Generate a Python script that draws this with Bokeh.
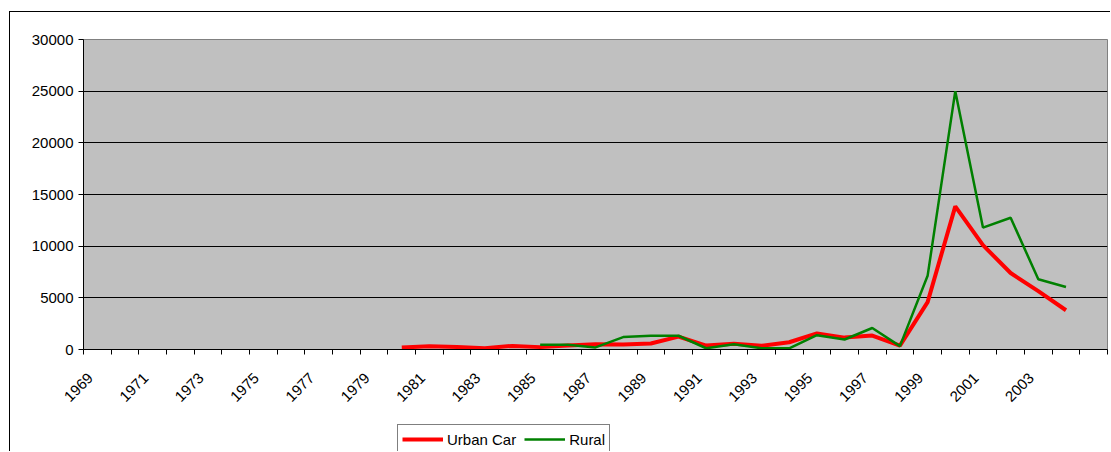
import math
from bokeh.plotting import figure
from bokeh.layouts import column
from bokeh.models import (FixedTicker, Legend, LegendItem, ColumnDataSource,
                          Range1d, BasicTickFormatter)
from bokeh.embed import file_html
from bokeh.resources import INLINE

nan = float("nan")

years = list(range(1969, 2006))
tick_years = list(range(1969, 2004, 2))
tick_labels = [str(y) for y in tick_years]
y_ticks = [0, 5000, 10000, 15000, 20000, 25000, 30000]
series_names = ["Urban Car", "Rural"]
series_colors = ["#FF0000", "#008000"]

urban_car = [nan] * 11 + [200, 320, 230, 130, 350, 230, 380, 500, 480, 580,
                          1250, 380, 560, 360, 700, 1560, 1150, 1350, 380,
                          4580, 13850, 10100, 7400, 5650, 3800] + [nan]
rural = [nan] * 16 + [450, 450, 200, 1200, 1330, 1330, 120, 500, 120, 120,
                      1380, 970, 2080, 330, 7130, 25000, 11800, 12750,
                      6800, 6050] + [nan]

src = ColumnDataSource(dict(year=years, urban=urban_car, rural=rural))

FONT = "Liberation Sans"

p = figure(width=1100, height=411, output_backend="svg", toolbar_location=None,
           x_range=Range1d(years[0] - 0.5, years[-1] + 0.5),
           y_range=Range1d(y_ticks[0], y_ticks[-1]),
           min_border_left=73, min_border_right=3, min_border_top=27,
           min_border_bottom=74)

p.background_fill_color = "#C0C0C0"
p.border_fill_color = "white"
p.outline_line_color = "#808080"
p.outline_line_width = 1

# x axis: labels a little left of the category centre, ticks at boundaries
label_pos = [y - 0.25 for y in tick_years]
xa = p.xaxis[0]
xa.ticker = FixedTicker(ticks=label_pos,
                        minor_ticks=[y - 0.5 for y in years] + [years[-1] + 0.5])
xa.major_label_overrides = {pos: s for pos, s in zip(label_pos, tick_labels)}
xa.major_tick_line_color = None
xa.minor_tick_line_color = "black"
xa.minor_tick_out = 5
xa.minor_tick_in = 0
xa.axis_line_color = "black"
xa.major_label_orientation = math.pi / 4
xa.major_label_standoff = 20
xa.major_label_text_font = FONT
xa.major_label_text_font_size = "15px"
xa.major_label_text_color = "black"

# y axis
ya = p.yaxis[0]
ya.ticker = FixedTicker(ticks=y_ticks, minor_ticks=[])
ya.formatter = BasicTickFormatter(use_scientific=False)
ya.major_tick_line_color = "black"
ya.major_tick_out = 5
ya.major_tick_in = 0
ya.minor_tick_line_color = None
ya.axis_line_color = "black"
ya.major_label_standoff = 5
ya.major_label_text_font = FONT
ya.major_label_text_font_size = "15px"
ya.major_label_text_color = "black"

p.xgrid.visible = False
p.ygrid.ticker = FixedTicker(ticks=y_ticks[1:-1])
p.ygrid.grid_line_color = "black"
p.ygrid.grid_line_width = 1

p.line("year", "urban", source=src, line_color=series_colors[0], line_width=4)
p.line("year", "rural", source=src, line_color=series_colors[1], line_width=2.5)

# legend strip below the chart (frames are aligned with the main chart)
lg = figure(width=1100, height=28, output_backend="svg", toolbar_location=None,
            x_axis_type=None, y_axis_type=None,
            x_range=Range1d(0, 1), y_range=Range1d(0, 1),
            min_border_left=73, min_border_right=3, min_border_top=0,
            min_border_bottom=0)
lg.outline_line_color = None
lg.background_fill_color = "white"
lg.border_fill_color = "white"
lr1 = lg.line(x=[nan], y=[nan], line_color=series_colors[0], line_width=4)
lr2 = lg.line(x=[nan], y=[nan], line_color=series_colors[1], line_width=2.5)

legend = Legend(items=[LegendItem(label=series_names[0], renderers=[lr1]),
                       LegendItem(label=series_names[1], renderers=[lr2])],
                orientation="horizontal", location=(314, -3),
                padding=4, margin=0, spacing=8, label_standoff=4,
                glyph_width=41, glyph_height=20, label_height=20,
                label_text_font=FONT, label_text_font_size="15px",
                label_text_color="black",
                border_line_color="black", border_line_width=1,
                background_fill_color="white", background_fill_alpha=1)
lg.add_layout(legend)

layout = column(p, lg, spacing=0)
layout.styles = {"margin-left": "9px", "margin-top": "11px",
                 "border-left": "1px solid black", "border-top": "1px solid black"}

open("out.html", "w").write(file_html(layout, INLINE))
